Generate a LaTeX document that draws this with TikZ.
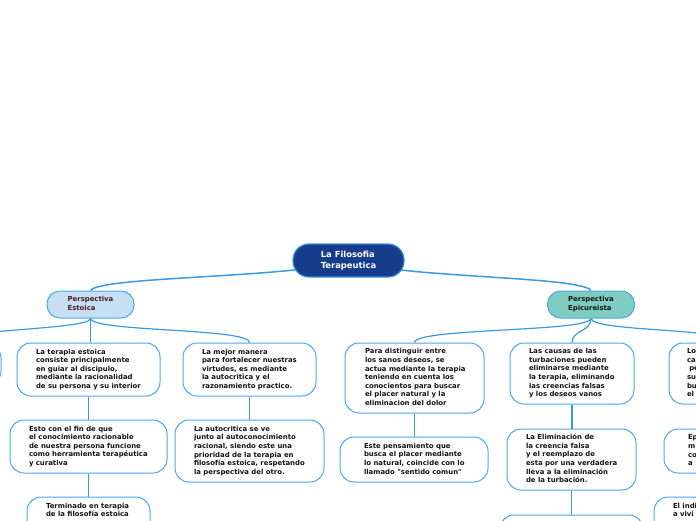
\documentclass[tikz,border=0pt]{standalone}
\usepackage{fontspec}
\newfontfamily\dejavu{DejaVu Sans}
\usetikzlibrary{backgrounds}
\definecolor{connc}{HTML}{3A9AE0}
\definecolor{bordc}{HTML}{4AA8EE}
\definecolor{rootfill}{HTML}{163C8C}
\definecolor{rootbord}{HTML}{3A8FDC}
\definecolor{stofill}{HTML}{C6DFF3}
\definecolor{epifill}{HTML}{7FCDC2}
\definecolor{stotext}{HTML}{4D1A2A}
\definecolor{txtc}{HTML}{141414}
\newcommand\bodyfont{\dejavu\bfseries\fontsize{6.9}{8.6}\selectfont}
\newcommand\topicfont{\dejavu\bfseries\fontsize{6.9}{9}\selectfont}
\newcommand\rootfont{\dejavu\bfseries\fontsize{8.4}{11}\selectfont}
\newcommand\boxlines[2]{\makebox[#1][l]{\begin{tabular}{@{}l@{}}#2\end{tabular}}}
\newcommand\stack[1]{\begin{tabular}{@{}l@{}}#1\end{tabular}}
\begin{document}
\begin{tikzpicture}[x=1pt,y=-1pt,
  conn/.style={draw=connc, line width=1.2pt},
  rootconn/.style={draw=connc, line width=1.5pt},
  box/.style={draw=bordc, line width=1pt, fill=white, rounded corners=14pt,
    inner xsep=19pt, inner ysep=0pt, text=txtc, font=\bodyfont},
  topic/.style={draw=bordc, line width=1pt, rounded corners=13pt, inner sep=0pt,
    font=\topicfont, minimum width=87pt, minimum height=27pt},
  rootbox/.style={draw=rootbord, fill=rootfill, line width=1.2pt, rounded corners=16pt,
    minimum width=111pt, minimum height=33pt, inner sep=0pt, text=white, font=\rootfont}
]
\useasboundingbox (0,0) rectangle (696,520);

% root and main topics
\node[rootbox] (root) at (348.5,260.5) {\stack{La Filosofia\\Terapeutica}};
\node[topic, fill=stofill, text=stotext] (sto) at (90.5,304.5) {\stack{Perspectiva\\Estoica}};
\node[topic, fill=epifill, text=txtc] (epi) at (591,304.5) {\stack{Perspectiva\\Epicureista}};

% Estoica branch
\node[box, minimum width=131pt, minimum height=41pt] (fl) at (-64.5,364.5) {};
\node[box, minimum height=53pt] (l1) at (88.5,369.5) {\boxlines{105pt}{La terapia estoica\\consiste principalmente\\en guiar al discipulo,\\mediante la racionalidad\\de su persona y su interior}};
\node[box, minimum height=53pt] (l2) at (249.5,369.5) {\boxlines{95pt}{La mejor manera\\para fortalecer nuestras\\virtudes, es mediante\\la autocritica y el\\razonamiento practico.}};
\node[box, minimum height=53pt] (l3) at (88.5,446.5) {\boxlines{119pt}{Esto con el fin de que\\el conocimiento racionable\\de nuestra persona funcione\\como herramienta terapéutica\\y curativa}};
\node[box, minimum height=53pt] (l4) at (88.5,523.5) {\boxlines{85pt}{Terminado en terapia\\de la filosofía estoica\\{}\\{}\\{}}};
\node[box, minimum height=62pt] (l5) at (249.5,451) {\boxlines{111pt}{La autocritica se ve\\junto al autoconocimiento\\racional, siendo este una\\prioridad de la terapia en\\filosofía estoica, respetando\\la perspectiva del otro.}};

% Epicureista branch
\node[box, inner xsep=20pt, minimum height=70pt] (e1) at (414.5,378) {\boxlines{99pt}{Para distinguir entre\\los sanos deseos, se\\actua mediante la terapia\\teniendo en cuenta los\\conocientos para buscar\\el placer natural y la\\eliminacion del dolor}};
\node[box, inner xsep=24pt, minimum height=45pt] (e2) at (414,459.5) {\boxlines{100pt}{Este pensamiento que\\busca el placer mediante\\lo natural, coincide con lo\\llamado "sentido comun"}};
\node[box, minimum height=61pt] (e3) at (572,373.5) {\boxlines{86pt}{Las causas de las\\turbaciones pueden\\eliminarse mediante\\la terapia, eliminando\\las creencias falsas\\y los deseos vanos}};
\node[box, minimum height=61pt] (e4) at (571.5,459.5) {\boxlines{91pt}{La Eliminación de\\la creencia falsa\\y el reemplazo de\\esta por una verdadera\\lleva a la eliminación\\de la turbación.}};
\node[box, minimum width=143pt, minimum height=55pt] (e5) at (571.5,542.5) {};
\node[box, inner xsep=18pt, minimum height=61pt] (e6) at (731,373.5) {\boxlines{88pt}{Lo\\ca\\\hspace*{2.3pt}pe\\su\\bu\\el}};
\node[box, inner xsep=24pt, minimum height=44pt] (e7) at (731,451) {\boxlines{86pt}{Ep\\m\\co\\a}};
\node[box, minimum height=53pt] (e8) at (719,523.5) {\boxlines{92pt}{El indi\\a vivi\\{}\\{}\\{}}};

\begin{pgfonlayer}{background}
\draw[rootconn] (root.center) .. controls (300,278) and (100,276) .. (sto.north);
\draw[rootconn] (root.center) .. controls (397,278) and (581,276) .. (epi.north);
\draw[conn] (sto.south) .. controls (90.5,330) and (-64.5,330) .. (fl.north);
\draw[conn] (sto.south) -- (sto.south |- l1.north);
\draw[conn] (sto.south) .. controls (92,332) and (249.5,328) .. (l2.north);
\draw[conn] (l1.south) -- (l3.north);
\draw[conn] (l3.south) -- (l4.north);
\draw[conn] (l2.south) -- (l5.north);
\draw[conn] (epi.south) .. controls (589,332) and (414.5,328) .. (e1.north);
\draw[conn] (epi.south) .. controls (591,332) and (572,330) .. (e3.north);
\draw[conn] (epi.south) .. controls (593,332) and (731,328) .. (e6.north);
\draw[conn] (e1.south) -- (e1.south |- e2.north);
\draw[conn] (e3.south) -- (e3.south |- e4.north);
\draw[conn] (e4.south) -- (e5.north);
\draw[conn] (e6.south) -- (e7.north);
\draw[conn] (e7.south) -- (e7.south |- e8.north);
\end{pgfonlayer}
\end{tikzpicture}
\end{document}
